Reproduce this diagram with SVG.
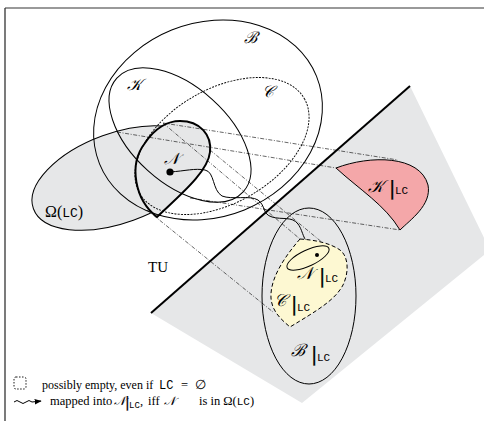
<svg xmlns="http://www.w3.org/2000/svg" width="484" height="421" viewBox="0 0 484 421">
<defs>
<style>
.ln{fill:none;stroke:#000;stroke-width:1}
.bold{fill:#e6e7e8;stroke:#000;stroke-width:2}
.dot{fill:none;stroke:#000;stroke-width:0.9;stroke-dasharray:2 1.2}
.dd{fill:none;stroke:#000;stroke-width:0.6;stroke-dasharray:4 1.6 1 1.6}
.serif{font-family:"Liberation Serif","Times New Roman",serif;fill:#000}
.bar{font-family:"DejaVu Sans",sans-serif;fill:#000;stroke:#000;stroke-width:0.25}
.scr{font-family:"DejaVu Serif","Liberation Serif",serif;font-style:italic;fill:#000}
.tt{font-family:"Liberation Mono","DejaVu Sans Mono",monospace;fill:#000}
</style>
<marker id="ah" viewBox="0 0 10 10" refX="9" refY="5" markerWidth="7" markerHeight="7" orient="auto" markerUnits="userSpaceOnUse">
<path d="M0,1 L10,5 L0,9 Z" fill="#000"/>
</marker>
</defs>
<rect width="484" height="421" fill="#fff"/>
<g id="frame">
<line x1="5" y1="8" x2="484" y2="8" stroke="#777" stroke-width="1.3"/>
<line x1="5" y1="8" x2="5" y2="421" stroke="#333" stroke-width="1.3"/>
</g>
<g id="tu-region">
<polygon points="410,86 490,250 302,403 151,313" fill="#e6e7e8"/>
</g>
<g id="omega">
<ellipse cx="118" cy="178" rx="90" ry="45" transform="rotate(-20 118 178)" fill="#e6e7e8" stroke="#000" stroke-width="1"/>
</g>
<g id="N">
<path class="bold" d="M157,217 C135,200 128,165 145,143 C155,128 168,121 180,121 C200,121 212,135 210,152 C208,172 180,195 157,217 Z"/>
</g>
<g id="B">
<ellipse class="ln" cx="208" cy="120" rx="117" ry="97" transform="rotate(-22 208 120)"/>
</g>
<g id="K">
<ellipse class="ln" cx="180" cy="135" rx="85" ry="48" transform="rotate(42 180 135)"/>
</g>
<g id="C">
<ellipse class="dot" cx="222" cy="146" rx="95" ry="57" transform="rotate(-30 222 146)"/>
</g>
<g id="connectors">
<line class="dd" x1="117" y1="132" x2="336" y2="168"/>
<line class="dd" x1="163" y1="123" x2="398" y2="160"/>
<line class="dd" x1="163" y1="123" x2="300" y2="239"/>
<line class="dd" x1="147" y1="210" x2="273" y2="312"/>
<line class="dd" x1="190" y1="198" x2="400" y2="230"/>
<line class="dd" x1="210" y1="150" x2="329" y2="248"/>
<path fill="none" stroke="#000" stroke-width="1" marker-end="url(#ah)" d="M170,172 C185,171 195,168 205,170 C215,172 212,190 222,196 C232,200 250,195 258,200 C266,206 262,214 272,217 C282,220 292,216 298,224 C304,232 302,242 316,250"/>
</g>
<g id="TU">
<line x1="151" y1="313" x2="410" y2="86" stroke="#000" stroke-width="2"/>
<text class="serif" x="148" y="272" font-size="15">TU</text>
</g>
<g id="K-LC">
<path d="M336,168 C370,155 420,155 428,185 C432,205 410,220 400,230 C385,205 360,190 336,168 Z" fill="#f4a7a9" stroke="#000" stroke-width="1"/>
<text x="368" y="192"><tspan class="scr" font-size="17">𝒦</tspan><tspan class="bar" x="389" y="195" font-size="19">|</tspan><tspan class="tt" x="395" y="194" font-size="11">LC</tspan></text>
</g>
<g id="B-LC">
<ellipse class="ln" cx="309" cy="296" rx="47" ry="88"/>
<text x="291" y="356"><tspan class="scr" font-size="17">ℬ</tspan><tspan class="bar" x="311" y="361" font-size="19">|</tspan><tspan class="tt" x="317" y="361" font-size="11">LC</tspan></text>
</g>
<g id="C-LC">
<path d="M300,239 C315,240 330,243 340,250 C350,258 348,275 343,285 C335,300 318,310 290,327 C282,320 272,312 271,298 C270,282 280,262 300,239 Z" fill="#fdf8d2" stroke="#000" stroke-width="1" stroke-dasharray="4 2.5"/>
<text x="274" y="306"><tspan class="scr" font-size="17">𝒞</tspan><tspan class="bar" x="291" y="311" font-size="19">|</tspan><tspan class="tt" x="297" y="311" font-size="11">LC</tspan></text>
</g>
<g id="N-LC">
<ellipse class="ln" cx="308" cy="258" rx="23" ry="8" transform="rotate(-25 308 258)" stroke-width="1.3"/>
<circle cx="317" cy="255" r="2" fill="#000"/>
<text x="297" y="279"><tspan class="scr" font-size="17">𝒩</tspan><tspan class="bar" x="319" y="283" font-size="19">|</tspan><tspan class="tt" x="325" y="282" font-size="11">LC</tspan></text>
</g>
<g id="labels">
<text class="scr" x="127" y="90" font-size="16">𝒦</text>
<text class="scr" x="244" y="43" font-size="16">ℬ</text>
<text class="scr" x="262" y="97" font-size="16">𝒞</text>
<text class="scr" x="164" y="164" font-size="16">𝒩</text>
<circle cx="170" cy="172" r="3.6" fill="#000"/>
<text x="45" y="217"><tspan class="serif" font-size="16">Ω(</tspan><tspan class="tt" font-size="13">LC</tspan><tspan class="serif" font-size="16">)</tspan></text>
</g>
<g id="legend">
<rect x="14" y="377" width="12" height="12" rx="2" fill="none" stroke="#000" stroke-width="0.9" stroke-dasharray="1.5 1.5"/>
<text class="serif" x="42" y="389" font-size="12">possibly empty, even if</text>
<text x="159" y="389"><tspan class="tt" font-size="12">LC</tspan><tspan class="serif" x="181" font-size="12.5">=</tspan><tspan class="serif" x="195" font-size="12.5">∅</tspan></text>
<path fill="none" stroke="#000" stroke-width="1" marker-end="url(#ah)" d="M14,402 q3,-3 6,0 t6,0 t6,0 L41,401"/>
<text x="50" y="405"><tspan class="serif" font-size="12.5">mapped into</tspan><tspan class="scr" x="114" font-size="12">𝒩</tspan><tspan class="bar" x="125" y="407" font-size="14">|</tspan><tspan class="tt" x="129" y="408" font-size="9">LC</tspan><tspan class="serif" x="140" y="405" font-size="12.5">,</tspan><tspan class="serif" x="148" font-size="12.5">iff</tspan><tspan class="scr" x="164" font-size="12">𝒩</tspan><tspan class="serif" x="199" font-size="12.5">is in Ω(</tspan><tspan class="tt" font-size="11">LC</tspan><tspan class="serif" font-size="12.5">)</tspan></text>
</g>
</svg>
